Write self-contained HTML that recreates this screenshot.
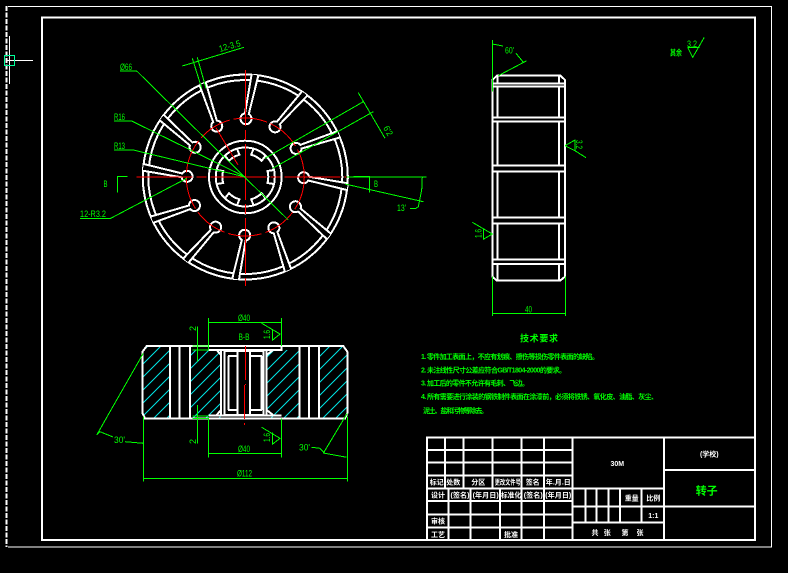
<!DOCTYPE html>
<html><head><meta charset="utf-8"><style>
html,body{margin:0;padding:0;background:#000;width:788px;height:573px;overflow:hidden}
svg{display:block}
text{font-family:"Liberation Sans","WenQuanYi Zen Hei","Noto Sans CJK SC",sans-serif}
.w{stroke:#fff;fill:none;stroke-width:2}
.g{stroke:#0f0;fill:none;stroke-width:1}
.r{stroke:#f00;fill:none;stroke-width:1}
.gt{fill:#0f0;font-size:9px}
.cn{fill:#0f0;font-size:7px;font-weight:bold}
.wt{fill:#fff;font-size:7px;font-weight:bold;text-anchor:middle}
</style></head><body>
<svg width="788" height="573" viewBox="0 0 788 573" xmlns="http://www.w3.org/2000/svg">
<defs>
<pattern id="h" width="13" height="13" patternUnits="userSpaceOnUse"><path d="M-1 14L14 -1M-1 1L1 -1M12 14L14 12" stroke="#00e8e8" stroke-width="1" fill="none"/></pattern>
<path id="s" d="M6.3 -102.5L-0.3 -63.7A5.5 5.5 0 1 0 3.5 -63L13 -101.5" fill="#000" stroke="#fff" stroke-width="2"/>
<path id="t" d="M28.5 -7L22.2 -6A23 23 0 0 1 22.2 6L28.5 7" fill="none" stroke="#fff" stroke-width="2"/>
</defs>
<rect width="788" height="573" fill="#000"/>
<g shape-rendering="crispEdges">
<!-- frames -->
<path d="M8 6.5H771.5V547H8" stroke="#fff" fill="none" stroke-width="1"/>
<path d="M6.3 6V547" stroke="#fff" stroke-width="2" stroke-dasharray="5 1.5" fill="none"/>
<rect x="42" y="17.5" width="713" height="522.5" fill="none" stroke="#fff" stroke-width="2"/>
<path d="M6 60.3H33M9.3 36V84" stroke="#fff" fill="none" stroke-width="1"/>
<rect x="4.5" y="55.5" width="10" height="10" fill="none" stroke="#00ff99" stroke-width="1"/>

<!-- front view -->
<g transform="translate(245.3 177)">
<circle r="102.5" class="w"/><circle r="97" class="w"/>
<use href="#s"/>
<use href="#s" transform="rotate(30)"/><use href="#s" transform="rotate(60)"/><use href="#s" transform="rotate(90)"/>
<use href="#s" transform="rotate(120)"/><use href="#s" transform="rotate(150)"/><use href="#s" transform="rotate(180)"/>
<use href="#s" transform="rotate(210)"/><use href="#s" transform="rotate(240)"/><use href="#s" transform="rotate(270)"/>
<use href="#s" transform="rotate(300)"/><use href="#s" transform="rotate(330)"/>
<circle r="36.3" class="w"/><circle r="29.5" class="w"/>
<use href="#t"/><use href="#t" transform="rotate(60)"/><use href="#t" transform="rotate(120)"/>
<use href="#t" transform="rotate(180)"/><use href="#t" transform="rotate(240)"/><use href="#t" transform="rotate(300)"/>
<circle r="59" class="r" stroke-dasharray="34 4"/>
</g>
<path class="r" d="M136.7 177H353.3" stroke-dasharray="56 4 10 4"/>
<path class="r" d="M245.3 70V286" stroke-dasharray="56 4 10 4"/>
<path class="r" d="M216 127.7L238 165"/>

<!-- front view green -->
<path class="g" d="M182.3 66L244 47.3M192.3 58.3L201.7 88.3M197.3 57.3L206 88.3"/>
<path class="g" d="M120 71H136.7L288.3 220"/>
<path class="g" d="M114 121H131.7L245.3 177"/>
<path class="g" d="M114 150H133.3L245.3 177"/>
<path class="g" d="M80 218.3H110.7L186.7 178.3"/>
<path class="g" d="M117.3 192.7V176.7H127.7M369.3 192.7V176.7H353.3"/>
<path class="g" d="M346.7 177H426.7M345 184L423.3 201.7M422.3 177L421.7 190L418.3 206.7L416 208.3H410"/>
<path class="g" d="M265 158.3L363.3 101.7M272.7 168.3L373.3 111.7M358.3 92.7L385 138.3"/>

<!-- section view -->
<polygon points="142.5,351.7 146.7,346 170,346 170,418.5 145,418.5 142.5,413.3" fill="url(#h)"/>
<rect x="190" y="350" width="30.7" height="68.5" fill="url(#h)"/>
<rect x="266.7" y="350" width="32.6" height="68.5" fill="url(#h)"/>
<polygon points="319,346 343.3,346 347.3,351.7 347.3,413.3 345,418.5 319,418.5" fill="url(#h)"/>
<path class="w" d="M142.5 351.7L146.7 346H343.3L347.3 351.7V413.3L345 418.5H145L142.5 413.3Z"/>
<path class="w" d="M170 346V418.5M190 346V418.5M299.3 346V418.5M319 346V418.5M221 350V415M266.7 350V415"/>
<path class="w" stroke-width="1.4" d="M179.3 346V418.5M309 346V418.5"/>
<path class="w" d="M208.3 350H281.7V346M208.3 415.7H281.7"/>
<path class="w" stroke-width="1.4" d="M224.3 350V415M237.7 350V415M250 350V415M263.3 350V415M228.3 356V410M261.7 356V410"/>
<path class="w" stroke-width="1.4" d="M224 351H263M228 356H238M250 356H262M228 410H238M250 410H262M224 415H263"/>
<path class="w" stroke-width="1.2" d="M216.7 350L221 355M273 350L266.7 355M216.7 415L221 410M273 415L266.7 410"/>
<path class="r" d="M245.3 346V385M244.3 385V425" stroke-dasharray="34 4 8 4"/>

<!-- section green -->
<path class="g" d="M208.3 322.7H281.7M208.3 318V349M281.7 318V346"/>
<path class="g" d="M261.7 323.3L280 334L272.7 340V329.3"/>
<path class="g" d="M197.3 326.7V361.7M192.7 346H209M192.7 350H209"/>
<path class="g" d="M197.3 405V443.3M192.7 416H209M192.7 418.7H209"/>
<path class="g" d="M208.3 453.3H281.7M208.3 418.7V457.7M281.7 418.7V457.7"/>
<path class="g" d="M261.7 427.3L280 438.3L272.7 444V432.7"/>
<path class="g" d="M143.3 478.3H347.3M143.3 416.7V481.7M347.3 416.7V481.7"/>
<path class="g" d="M143.3 353.3L96.7 435M96.7 435L100 431.7L113 437M125 441.7L143.3 443.3"/>
<path class="g" d="M347.3 413.3L323.3 453.3M311.7 447.3L320 448.3L325 453.3L346.7 457.3"/>

<!-- side view -->
<path class="w" d="M492.3 80L497 75.7H560.5L565 80V276.7L560 280.7H497L492.3 276.7Z"/>
<path class="w" d="M492.3 83.3H565M492.3 86.7H565M492.3 117.3H565M492.3 121.7H565M492.3 165.7H565M492.3 171.7H565M492.3 217.7H565M492.3 223.3H565M492.3 259.3H565M492.3 264H565"/>
<path class="w" d="M497.7 75.7V83.3M497.7 86.7V117.3M497.7 121.7V165.7M497.7 171.7V217.7M497.7 223.3V259.3M497.7 264V280.7M559 75.7V83.3M559 86.7V117.3M559 121.7V165.7M559 171.7V217.7M559 223.3V259.3M559 264V280.7"/>
<path class="g" d="M492.3 40V91.7M492.3 44L503 46M498.3 75.7L526.7 60.7M516 53.3L523.3 62.3"/>
<path class="g" stroke-width="2" d="M520 58L523 62"/>
<path class="g" d="M565 145.7L575 140V150.7L565 145.7M575 150.7L586 157.7"/>
<path class="g" d="M472.3 222.3L492.3 234L483.3 239.3V229"/>
<path class="g" d="M492.3 276.7V316M565.3 276.7V316M492.3 313.3H565.3"/>
<path class="g" d="M687.7 47.3L692.7 57.3L704.3 37.3M687.7 47.3H699.3"/>

<!-- title block -->
<rect x="427" y="437.7" width="328" height="102.3" fill="none" stroke="#fff" stroke-width="2"/>
<path class="w" d="M572.7 437.7V540M664 437.7V540"/>
<path class="w" d="M427 450H572.7M427 462.7H572.7M427 475.7H572.7M427 488.7H572.7M427 501H572.7M427 514.3H572.7M427 527.3H572.7"/>
<path class="w" d="M445 437.7V488.7M463.3 437.7V488.7M492.3 437.7V488.7M521.7 437.7V540M544 437.7V540"/>
<path class="w" d="M448.3 488.7V540M470.7 488.7V540M500 488.7V540"/>
<path class="w" d="M572.7 488.7H664M572.7 506.7H664M572.7 522.7H664"/>
<path class="w" d="M585.7 488.7V522.7M596.7 488.7V522.7M608.3 488.7V522.7M620 488.7V522.7M641.7 488.7V522.7"/>
<path class="w" d="M664 470H755M664 506.7H755"/>
</g>

<!-- green labels -->
<text class="gt" transform="translate(220 52) rotate(-16)" textLength="22" lengthAdjust="spacingAndGlyphs">12-3.5</text>
<text class="gt" x="120" y="70" textLength="12" lengthAdjust="spacingAndGlyphs">Ø66</text>
<text class="gt" x="114" y="120" textLength="11" lengthAdjust="spacingAndGlyphs">R16</text>
<text class="gt" x="114" y="149" textLength="11" lengthAdjust="spacingAndGlyphs">R13</text>
<text class="gt" x="80" y="217" textLength="26" lengthAdjust="spacingAndGlyphs">12-R3.2</text>
<text class="gt" x="103.500" y="187" textLength="4" lengthAdjust="spacingAndGlyphs">B</text>
<text class="gt" x="374" y="187" textLength="4" lengthAdjust="spacingAndGlyphs">B</text>
<text class="gt" x="397" y="211" textLength="9" lengthAdjust="spacingAndGlyphs">13'</text>
<text class="gt" transform="translate(383 128) rotate(60)" textLength="10" lengthAdjust="spacingAndGlyphs">6'2</text>
<text class="gt" x="238" y="321" textLength="12" lengthAdjust="spacingAndGlyphs">Ø40</text>
<text class="gt" x="238.500" y="340" textLength="11" lengthAdjust="spacingAndGlyphs">B-B</text>
<text class="gt" transform="translate(270 339) rotate(-90)" textLength="9" lengthAdjust="spacingAndGlyphs">1.6</text>
<text class="gt" transform="translate(196 331) rotate(-90)" font-size="8">2</text>
<text class="gt" transform="translate(196 444) rotate(-90)" font-size="8">2</text>
<text class="gt" transform="translate(270 442) rotate(-90)" textLength="9" lengthAdjust="spacingAndGlyphs">1.6</text>
<text class="gt" x="238" y="452" textLength="12" lengthAdjust="spacingAndGlyphs">Ø40</text>
<text class="gt" x="237" y="476.500" textLength="15" lengthAdjust="spacingAndGlyphs">Ø112</text>
<text class="gt" x="114" y="443" textLength="11" lengthAdjust="spacingAndGlyphs">30'</text>
<text class="gt" x="299" y="450.500" textLength="11" lengthAdjust="spacingAndGlyphs">30'</text>
<text class="gt" x="505" y="53.500" textLength="9" lengthAdjust="spacingAndGlyphs">60'</text>
<text class="gt" transform="translate(576 140) rotate(90)" textLength="9" lengthAdjust="spacingAndGlyphs" font-size="8">3.2</text>
<text class="gt" transform="translate(481.500 238) rotate(-90)" textLength="9" lengthAdjust="spacingAndGlyphs">1.6</text>
<text class="gt" x="525" y="312.500" textLength="7" lengthAdjust="spacingAndGlyphs">40</text>
<text class="cn" x="670" y="55.500" textLength="12" lengthAdjust="spacingAndGlyphs" style="font-size:8px">其余</text>
<text class="gt" x="687" y="47" textLength="10" lengthAdjust="spacingAndGlyphs">3.2</text>

<!-- technical requirements -->
<text class="cn" x="520" y="341.500" textLength="38" style="font-size:9px">技术要求</text>
<text class="cn" x="421" y="359" textLength="178">1. 零件加工表面上，不应有划痕、擦伤等损伤零件表面的缺陷。</text>
<text class="cn" x="421" y="372.500" textLength="145">2. 未注线性尺寸公差应符合GB/T1804-2000的要求。</text>
<text class="cn" x="421" y="385.500" textLength="108">3. 加工后的零件不允许有毛刺、飞边。</text>
<text class="cn" x="421" y="399" textLength="237">4. 所有需要进行涂装的钢铁制件表面在涂漆前，必须将铁锈、氧化皮、油脂、灰尘、</text>
<text class="cn" x="423" y="413" textLength="65">泥土、盐和污物等除去。</text>

<!-- title block text -->
<text class="wt" x="617.300" y="466">30M</text>
<text class="wt" x="709.300" y="456.500">(学校)</text>
<text x="706.700" y="494.500" fill="#0f0" font-size="11" text-anchor="middle" font-weight="bold">转子</text>
<text class="wt" x="436.700" y="484.500">标记</text>
<text class="wt" x="453.300" y="484.500">处数</text>
<text class="wt" x="478.300" y="484.500">分区</text>
<text class="wt" x="507.700" y="484.500" textLength="26" lengthAdjust="spacingAndGlyphs">更改文件号</text>
<text class="wt" x="532.700" y="484.500">签名</text>
<text class="wt" x="558.300" y="484.500" textLength="25">年.月.日</text>
<text class="wt" x="438" y="497.500">设计</text>
<text class="wt" x="460" y="497.500" textLength="19" lengthAdjust="spacingAndGlyphs">(签名)</text>
<text class="wt" x="485.700" y="497.500" textLength="26" lengthAdjust="spacingAndGlyphs">(年月日)</text>
<text class="wt" x="511" y="497.500" textLength="20" lengthAdjust="spacingAndGlyphs">标准化</text>
<text class="wt" x="533.300" y="497.500" textLength="19" lengthAdjust="spacingAndGlyphs">(签名)</text>
<text class="wt" x="558.300" y="497.500" textLength="26" lengthAdjust="spacingAndGlyphs">(年月日)</text>
<text class="wt" x="631.700" y="500.500">重量</text>
<text class="wt" x="653.300" y="500.500">比例</text>
<text class="wt" x="653.300" y="518">1:1</text>
<text class="wt" x="438" y="523.500">审核</text>
<text class="wt" x="438" y="537">工艺</text>
<text class="wt" x="511" y="537">批准</text>
<text class="wt" x="595" y="535">共</text>
<text class="wt" x="607.300" y="535">张</text>
<text class="wt" x="625" y="535">第</text>
<text class="wt" x="640" y="535">张</text>
</svg>
</body></html>
